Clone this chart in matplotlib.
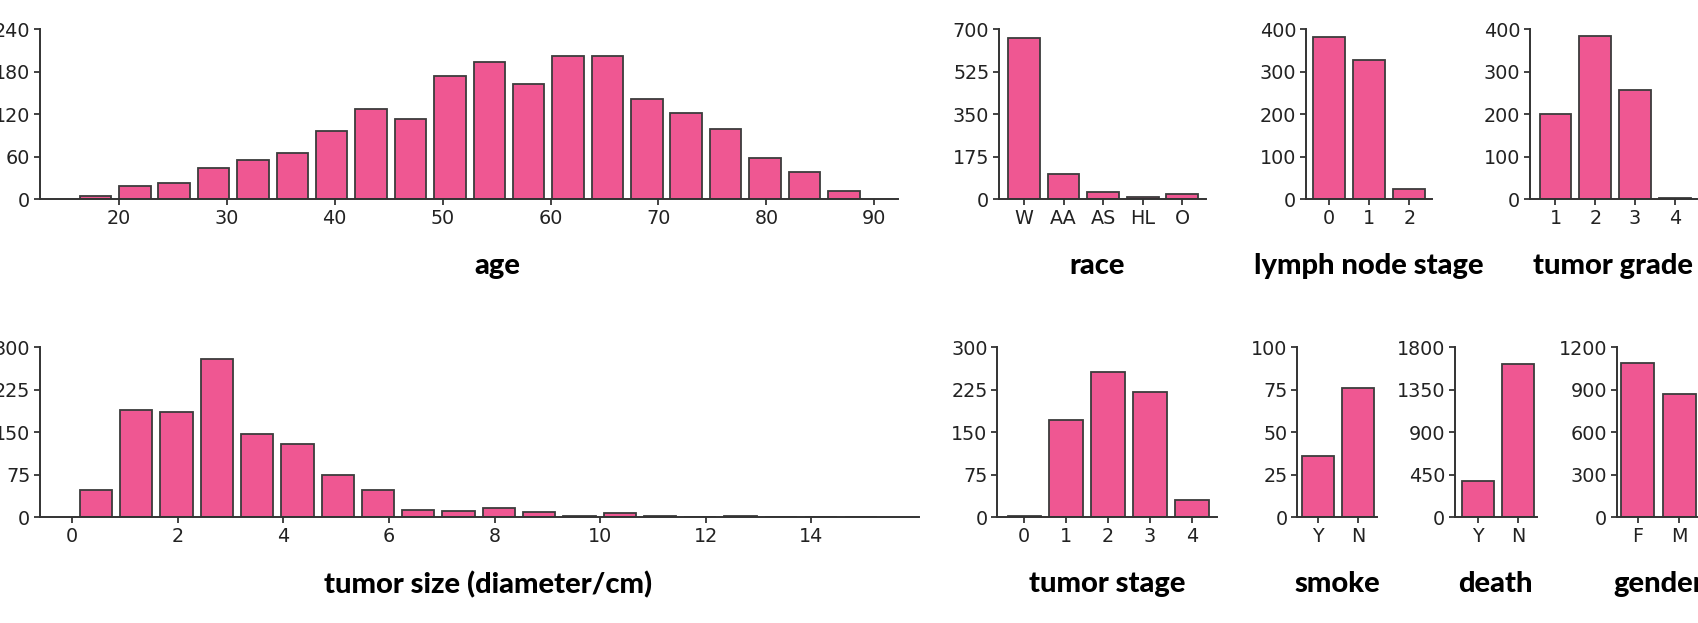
import numpy as np
import matplotlib
matplotlib.use("Agg")
import matplotlib.pyplot as plt

plt.rcParams["font.family"] = ["DejaVu Sans"]

# histogram data (counts per bin)
age_counts = [5, 19, 23, 44, 56, 65, 97, 127, 114, 174, 194, 163, 203, 202, 142, 122, 99, 58, 39, 12]
age_range = (16, 89)
size_counts = [49, 189, 185, 280, 147, 130, 75, 49, 13, 11, 17, 9, 3, 8, 3, 0, 2, 1, 0, 1]
size_range = (0.07, 15.33)

# categorical counts
race_cats = ["W", "AA", "AS", "HL", "O"]
race_counts = [663, 106, 30, 11, 22]
lymph_cats = ["0", "1", "2"]
lymph_counts = [381, 328, 25]
grade_cats = ["1", "2", "3", "4"]
grade_counts = [201, 384, 257, 3]
stage_cats = ["0", "1", "2", "3", "4"]
stage_counts = [3, 172, 256, 221, 30]
smoke_cats = ["Y", "N"]
smoke_counts = [36, 76]
death_cats = ["Y", "N"]
death_counts = [381, 1627]
gender_cats = ["F", "M"]
gender_counts = [1092, 871]

W, H = 1699, 623
fig = plt.figure(figsize=(W / 100, H / 100), dpi=100)

FACE = "#EF5792"
EDGE = "#3c3c3c"
label_font = dict(family=["Lato", "DejaVu Sans"], fontweight="black", fontsize=21)


def make_ax(x0, x1, row):
    top, bot = (29.3, 199.3) if row == 0 else (347.3, 517.3)
    ax = fig.add_axes([x0 / W, 1 - bot / H, (x1 - x0) / W, (bot - top) / H])
    for s in ("top", "right"):
        ax.spines[s].set_visible(False)
    for s in ("left", "bottom"):
        ax.spines[s].set_color("#333333")
        ax.spines[s].set_linewidth(1.4)
    ax.tick_params(labelsize=13.8, colors="#222222", length=4, width=1.2, pad=3)
    return ax


def hist_panel(ax, counts, rng, yticks, xticks, xlim, label, lx=0.5):
    edges = np.linspace(rng[0], rng[1], len(counts) + 1)
    w = edges[1] - edges[0]
    ax.bar(edges[:-1] + w / 2, counts, width=w * 0.8, color=FACE,
           edgecolor=EDGE, linewidth=1.3)
    ax.set_ylim(0, yticks[-1])
    ax.set_yticks(yticks)
    ax.set_xticks(xticks)
    ax.set_xlim(*xlim)
    ax.set_xlabel(label, **label_font)
    ax.xaxis.set_label_coords(lx, -0.315)


def cat_panel(ax, cats, counts, yticks, xlim, label, lx=0.5):
    ax.bar(range(len(cats)), counts, width=0.8, color=FACE,
           edgecolor=EDGE, linewidth=1.3)
    ax.set_xticks(range(len(cats)))
    ax.set_xticklabels(cats)
    ax.set_ylim(0, yticks[-1])
    ax.set_yticks(yticks)
    ax.set_xlim(*xlim)
    ax.set_xlabel(label, **label_font)
    ax.xaxis.set_label_coords(lx, -0.315)


hist_panel(make_ax(40, 898, 0), age_counts, age_range,
           [0, 60, 120, 180, 240], range(20, 91, 10), (12.69, 92.2), "age",
           lx=0.533)
hist_panel(make_ax(40, 919, 1), size_counts, size_range,
           [0, 75, 150, 225, 300], range(0, 15, 2), (-0.61, 16.04),
           "tumor size (diameter/cm)", lx=0.51)

cat_panel(make_ax(999, 1206, 0), race_cats, race_counts,
          [0, 175, 350, 525, 700], (-0.63, 4.6), "race", lx=0.475)
cat_panel(make_ax(1306, 1431.7, 0), lymph_cats, lymph_counts,
          [0, 100, 200, 300, 400], (-0.58, 2.56), "lymph node stage")
cat_panel(make_ax(1530, 1697, 0), grade_cats, grade_counts,
          [0, 100, 200, 300, 400], (-0.64, 3.56), "tumor grade")

cat_panel(make_ax(997.3, 1217.3, 1), stage_cats, stage_counts,
          [0, 75, 150, 225, 300], (-0.645, 4.61), "tumor stage")
cat_panel(make_ax(1297.3, 1377.3, 1), smoke_cats, smoke_counts,
          [0, 25, 50, 75, 100], (-0.525, 1.475), "smoke")
cat_panel(make_ax(1455, 1536.7, 1), death_cats, death_counts,
          [0, 450, 900, 1350, 1800], (-0.58, 1.46), "death")
cat_panel(make_ax(1616.7, 1700, 1), gender_cats, gender_counts,
          [0, 300, 600, 900, 1200], (-0.5, 1.5), "gender")

fig.savefig("out.png", dpi=100)
